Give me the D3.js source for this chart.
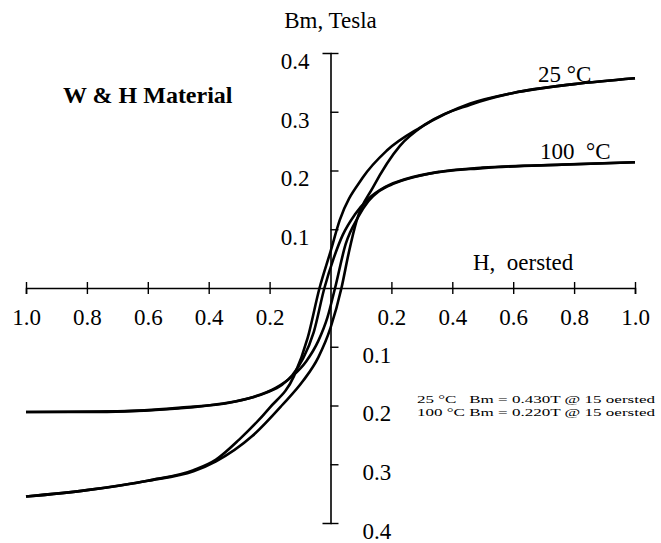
<!DOCTYPE html>
<html>
<head>
<meta charset="utf-8">
<script src="https://cdn.jsdelivr.net/npm/d3@7"></script>
<style>
  body { margin: 0; background: #fff; }
  svg text { font-family: "Liberation Serif", "DejaVu Serif", "Noto Serif", Tinos, serif !important; fill: #000; }
</style>
</head>
<body>
<div id="chart"></div>
<script>
const width = 661;
const height = 543;

// H (oersted, axis units) vs Bm (Tesla), branches listed by increasing H
const loop25Upper = [
  [-1.0, -0.355], [-0.8, -0.344], [-0.6, -0.328], [-0.45, -0.31], [-0.376, -0.292],
  [-0.3, -0.258], [-0.2, -0.204], [-0.12, -0.15], [-0.075, -0.085], [-0.036, 0],
  [0, 0.062], [0.03, 0.115], [0.106, 0.188], [0.185, 0.234], [0.294, 0.273],
  [0.459, 0.314], [0.6, 0.332], [0.8, 0.347], [1.0, 0.357]
];
const loop25Lower = [
  [-1.0, -0.355], [-0.8, -0.344], [-0.6, -0.328], [-0.45, -0.312], [-0.376, -0.295],
  [-0.257, -0.252], [-0.16, -0.2], [-0.09, -0.158], [-0.04, -0.118], [0, -0.068],
  [0.036, 0], [0.06, 0.06], [0.086, 0.115], [0.139, 0.171], [0.228, 0.242],
  [0.31, 0.278], [0.459, 0.312], [0.6, 0.332], [0.8, 0.347], [1.0, 0.357]
];
const loop100Upper = [
  [-1.0, -0.211], [-0.76, -0.211], [-0.5, -0.204], [-0.32, -0.194], [-0.21, -0.178],
  [-0.16, -0.165], [-0.125, -0.148], [-0.09, -0.12], [-0.055, -0.075], [-0.02, 0],
  [0.01, 0.05], [0.04, 0.09], [0.08, 0.125], [0.125, 0.152], [0.18, 0.172],
  [0.25, 0.186], [0.36, 0.198], [0.5, 0.205], [0.7, 0.209], [1.0, 0.214]
];
const loop100Lower = [
  [-1.0, -0.211], [-0.7, -0.21], [-0.5, -0.205], [-0.36, -0.197], [-0.25, -0.185],
  [-0.18, -0.17], [-0.125, -0.15], [-0.08, -0.125], [-0.04, -0.09], [-0.01, -0.05],
  [0.015, 0], [0.05, 0.075], [0.09, 0.12], [0.125, 0.148], [0.16, 0.165],
  [0.21, 0.178], [0.32, 0.194], [0.5, 0.204], [0.76, 0.21], [1.0, 0.214]
];

const hTicks = [-1.0, -0.8, -0.6, -0.4, -0.2, 0.2, 0.4, 0.6, 0.8, 1.0];
const bTicks = [0.4, 0.3, 0.2, 0.1, -0.1, -0.2, -0.3, -0.4];
const notes = [
  "25 °C   Bm = 0.430T @ 15 oersted",
  "100 °C Bm = 0.220T @ 15 oersted"
];

const x = d3.scaleLinear().domain([-1, 1]).range([26, 635]);
const y = d3.scaleLinear().domain([-0.4, 0.4]).range([523, 53]);

const svg = d3.create('svg')
  .attr('width', width)
  .attr('height', height);

// horizontal axis through B = 0
const xAxis = svg.append('g')
  .attr('transform', `translate(0,${y(0)})`)
  .call(d3.axisBottom(x).tickValues(hTicks).tickSizeOuter(0).tickSize(6)
    .tickFormat(d => Math.abs(d).toFixed(1)));
xAxis.select('.domain').attr('stroke-width', 1.6);
xAxis.selectAll('.tick line').attr('y1', -6).attr('stroke-width', 1.4);
xAxis.selectAll('.tick text')
  .attr('y', 37).attr('dy', 0)
  .style('font-size', '23px');

// vertical axis through H = 0
const yAxis = svg.append('g')
  .attr('transform', `translate(${x(0)},0)`)
  .call(d3.axisLeft(y).tickValues(bTicks).tickSizeOuter(0).tickSize(8)
    .tickFormat(d => Math.abs(d).toFixed(1)));
yAxis.select('.domain').attr('stroke-width', 1.6);
yAxis.selectAll('.tick line').attr('x2', 8).attr('stroke-width', 1.4);
yAxis.selectAll('.tick text')
  .attr('y', 8)
  .attr('x', d => d > 0 ? -21 : 32)
  .attr('text-anchor', d => d > 0 ? 'end' : 'start')
  .style('font-size', '23px');

const line = d3.line()
  .x(d => x(d[0]))
  .y(d => y(d[1]))
  .curve(d3.curveMonotoneX);

[loop25Upper, loop25Lower, loop100Upper, loop100Lower].forEach(branch => {
  svg.append('path')
    .attr('fill', 'none')
    .attr('stroke', '#000')
    .attr('stroke-width', 2.6)
    .attr('d', line(branch));
});

svg.append('text').attr('x', x(0)).attr('y', 28)
  .attr('text-anchor', 'middle').style('font-size', '23px').text('Bm, Tesla');
svg.append('text').attr('x', 473).attr('y', 270)
  .style('font-size', '23px').style('white-space', 'pre').text('H,  oersted');
svg.append('text').attr('x', 63).attr('y', 103)
  .style('font-size', '24px').style('font-weight', 'bold').text('W & H Material');
svg.append('text').attr('x', 538).attr('y', 82)
  .style('font-size', '23px').text('25 °C');
svg.append('text').attr('x', 540).attr('y', 159)
  .style('font-size', '23px').style('white-space', 'pre').text('100  °C');

svg.selectAll('.note')
  .data(notes)
  .join('text')
  .attr('class', 'note')
  .attr('x', 417)
  .attr('y', (d, i) => 403 + i * 13)
  .attr('textLength', 238)
  .attr('lengthAdjust', 'spacingAndGlyphs')
  .style('font-size', '11px')
  .style('white-space', 'pre')
  .text(d => d);

document.getElementById('chart').appendChild(svg.node());
</script>
</body>
</html>
